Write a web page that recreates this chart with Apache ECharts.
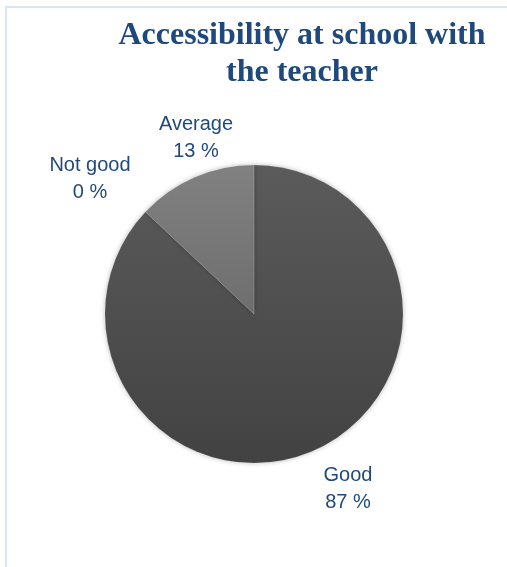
<!DOCTYPE html>
<html>
<head>
<meta charset="utf-8">
<script src="https://cdn.jsdelivr.net/npm/echarts@6/dist/echarts.min.js"></script>
<style>
  html, body { margin: 0; padding: 0; background: #fff; }
  #chart { width: 507px; height: 567px; }
</style>
</head>
<body>
<div id="chart"></div>
<script>
// Survey answers, drawn clockwise from 12 o'clock
const categories = ['Good', 'Average', 'Not good'];
const values = [87, 13, 0];

// Label anchor points (centre of each two-line label)
const labelSpots = [[348, 489], [196, 138], [90, 179]];

const fills = [
  ['#5b5b5b', '#424242'],
  ['#818181', '#6e6e6e'],
  ['#a0a0a0', '#8a8a8a']
];

const labelFont = "'Liberation Sans Narrow', 'Arial Narrow', 'Liberation Sans', Arial, sans-serif";

const chart = echarts.init(document.getElementById('chart'), null, { renderer: 'canvas' });

chart.setOption({
  backgroundColor: '#ffffff',
  animation: false,
  title: {
    text: 'Accessibility at school with\nthe teacher',
    left: 297,
    top: 12,
    textAlign: 'center',
    textStyle: {
      fontFamily: "'Liberation Serif', 'Times New Roman', serif",
      fontWeight: 'bold',
      fontSize: 32,
      lineHeight: 37,
      color: '#1f497d'
    }
  },
  graphic: [{
    type: 'rect',
    shape: { x: 6, y: 7, width: 600, height: 600 },
    style: { fill: 'none', stroke: '#d9e5f4', lineWidth: 2 },
    silent: true
  }],
  series: [{
    type: 'pie',
    center: [254, 314],
    radius: [0, 149],
    startAngle: 90,
    clockwise: true,
    avoidLabelOverlap: false,
    data: categories.map((name, i) => ({
      name: name,
      value: values[i],
      itemStyle: {
        color: new echarts.graphic.LinearGradient(0, 0, 0, 1, [
          { offset: 0, color: fills[i][0] },
          { offset: 1, color: fills[i][1] }
        ])
      }
    })),
    itemStyle: {
      borderColor: 'rgba(255,255,255,0.12)',
      borderWidth: 0.6,
      shadowBlur: 5,
      shadowColor: 'rgba(0,0,0,0.28)'
    },
    label: {
      show: true,
      position: 'outside',
      formatter: '{b}\n{c} %',
      fontFamily: labelFont,
      fontSize: 20,
      lineHeight: 27,
      color: '#1f497d',
      align: 'center'
    },
    labelLine: { show: false },
    labelLayout: function (params) {
      const p = labelSpots[params.dataIndex];
      return { x: p[0], y: p[1], align: 'center', verticalAlign: 'middle' };
    },
    emphasis: { disabled: true }
  }]
});
</script>
</body>
</html>
